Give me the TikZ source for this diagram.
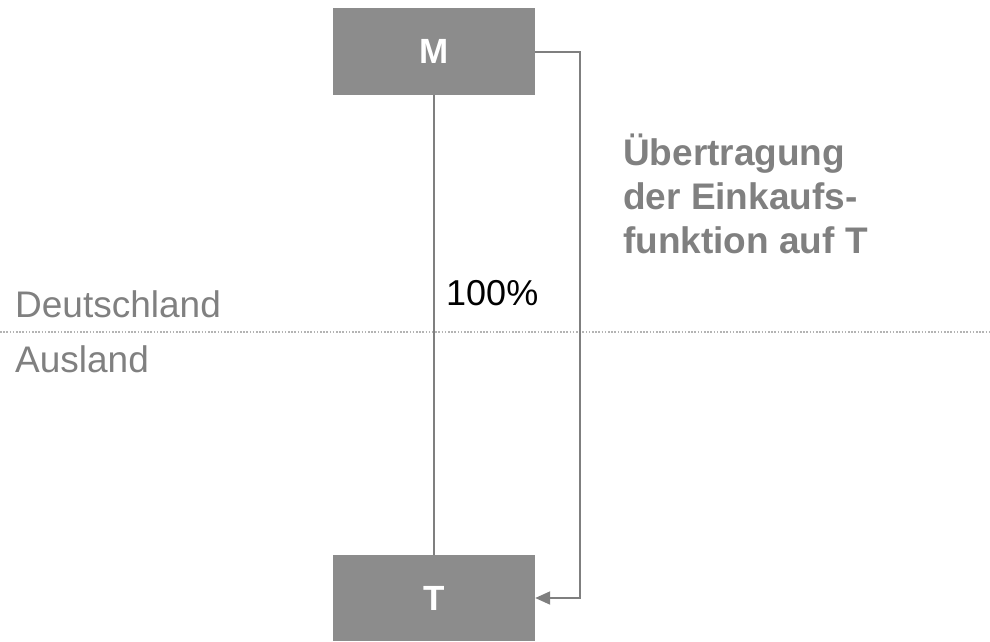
\documentclass[tikz,border=0pt]{standalone}
\usepackage{fontspec}
\setmainfont{Liberation Sans}
\usepackage{xcolor}
\usepackage{tikz}
\usetikzlibrary{arrows.meta, positioning, calc}

\definecolor{boxgray}{HTML}{8C8C8C}
\definecolor{linegray}{HTML}{7F7F7F}
\definecolor{labelgray}{HTML}{808080}
\definecolor{dotgray}{HTML}{B4B4B4}

\begin{document}
\begin{tikzpicture}[
    x=1pt, y=-1pt,
    company/.style={rectangle, fill=boxgray, minimum width=202pt, minimum height=87pt, inner sep=0pt, text=white, font=\fontsize{35}{42}\selectfont\bfseries},
    link/.style={draw=linegray, line width=2pt},
    transfer/.style={draw=linegray, line width=2pt, -{Triangle[length=15pt, width=13pt]}},
    border/.style={draw=dotgray, line width=1.6pt, dash pattern=on 1.6pt off 1.6pt},
    region/.style={font=\fontsize{37}{44}\selectfont, text=labelgray, inner sep=0pt},
]
    \useasboundingbox (0,0) rectangle (990,641);

    % border Deutschland / Ausland
    \coordinate (bw) at (0,332);
    \coordinate (be) at (990,332);
    \draw[border] (bw) -- (be);
    \node[region, anchor=base west] (de) at (15,317) {Deutschland};
    \node[region, anchor=base west] (aus) at (15,372) {Ausland};

    % companies
    \node[company] (m) at (434,51.5) {M};
    \node[company, minimum height=86pt] (t) at (434,598) {T};

    % shareholding
    \draw[link] (m.south) -- (t.north);
    \node[font=\fontsize{36}{43}\selectfont, inner sep=0pt, anchor=base west] (share) at (446,305) {100\%};

    % transfer of purchasing
    \coordinate (bend) at (580,0);
    \draw[transfer] (m.east) -- (m.east -| bend) |- (t.east);
    \node[font=\fontsize{37}{44}\selectfont\bfseries, text=labelgray, align=left, anchor=north west, inner sep=0pt] (func) at (623,134)
        {Übertragung\\der Einkaufs-\\funktion auf T};
\end{tikzpicture}
\end{document}
